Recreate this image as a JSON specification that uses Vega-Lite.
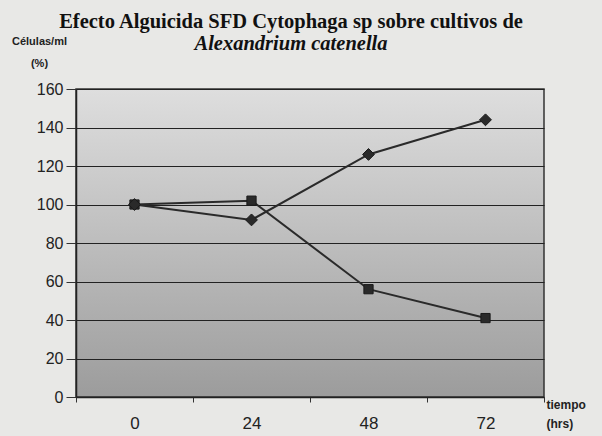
{
  "$schema": "https://vega.github.io/schema/vega-lite/v6.json",
  "width": 468,
  "height": 308,
  "autosize": {"type": "none"},
  "padding": {"left": 76, "top": 89, "right": 58, "bottom": 39},
  "background": "#e8e8e6",
  "title": {
    "text": "Efecto Alguicida SFD Cytophaga sp  sobre cultivos de",
    "subtitle": "Alexandrium catenella",
    "font": "Liberation Serif",
    "fontSize": 20.5,
    "fontWeight": "bold",
    "color": "#111111",
    "subtitleFont": "Liberation Serif",
    "subtitleFontSize": 20.5,
    "subtitleFontWeight": "bold",
    "subtitleFontStyle": "italic",
    "subtitleColor": "#111111",
    "subtitlePadding": 1,
    "anchor": "middle",
    "dx": -19,
    "offset": -19
  },
  "data": {
    "values": [
      {"t": "0", "serie": "A", "v": 100},
      {"t": "24", "serie": "A", "v": 102},
      {"t": "48", "serie": "A", "v": 56},
      {"t": "72", "serie": "A", "v": 41},
      {"t": "0", "serie": "B", "v": 100},
      {"t": "24", "serie": "B", "v": 92},
      {"t": "48", "serie": "B", "v": 126},
      {"t": "72", "serie": "B", "v": 144}
    ]
  },
  "encoding": {
    "x": {
      "field": "t",
      "type": "ordinal",
      "sort": ["0", "24", "48", "72"],
      "scale": {"paddingInner": 0, "paddingOuter": 0},
      "axis": {
        "title": ["tiempo", "(hrs)"],
        "titleFont": "Liberation Sans",
        "titleFontSize": 12,
        "titleFontWeight": "bold",
        "titleColor": "#222222",
        "titleAlign": "left",
        "titleBaseline": "top",
        "titleAnchor": null,
        "titleX": 470,
        "titleY": 2,
        "titleLineHeight": 19,
        "labelAngle": 0,
        "labelFont": "Liberation Sans",
        "labelFontSize": 17,
        "labelColor": "#222222",
        "labelPadding": 13,
        "tickBand": "extent",
        "tickSize": 5,
        "tickColor": "#333333",
        "domainColor": "#222222",
        "domainWidth": 1.5,
        "grid": false
      }
    },
    "y": {
      "field": "v",
      "type": "quantitative",
      "scale": {"domain": [0, 160], "nice": false},
      "axis": {
        "values": [0, 20, 40, 60, 80, 100, 120, 140, 160],
        "title": ["Células/ml", "(%)"],
        "titleFont": "Liberation Sans",
        "titleFontSize": 11,
        "titleFontWeight": "bold",
        "titleColor": "#222222",
        "titleAngle": 0,
        "titleAlign": "center",
        "titleBaseline": "top",
        "titleAnchor": null,
        "titleX": -37,
        "titleY": -54,
        "titleLineHeight": 22,
        "labelFont": "Liberation Sans",
        "labelFontSize": 16,
        "labelColor": "#222222",
        "labelPadding": 3,
        "tickSize": 10,
        "tickColor": "#333333",
        "domainColor": "#222222",
        "domainWidth": 1.5,
        "grid": true,
        "gridColor": "#222222",
        "gridWidth": 1.2,
        "gridOpacity": 1
      }
    }
  },
  "layer": [
    {
      "mark": {"type": "line", "color": "#2a2a2a", "strokeWidth": 2},
      "encoding": {"detail": {"field": "serie"}}
    },
    {
      "mark": {"type": "point", "filled": true, "color": "#2a2a2a", "opacity": 1, "stroke": "#1a1a1a", "strokeWidth": 1},
      "encoding": {
        "shape": {
          "field": "serie",
          "scale": {"domain": ["A", "B"], "range": ["square", "diamond"]},
          "legend": null
        },
        "size": {
          "field": "serie",
          "type": "nominal",
          "scale": {"domain": ["A", "B"], "range": [85, 140]},
          "legend": null
        }
      }
    }
  ],
  "config": {
    "view": {
      "stroke": "#333333",
      "strokeWidth": 1.5,
      "fill": {
        "gradient": "linear",
        "x1": 0, "y1": 0, "x2": 0, "y2": 1,
        "stops": [
          {"offset": 0, "color": "#dedede"},
          {"offset": 0.5, "color": "#bdbdbd"},
          {"offset": 1, "color": "#9c9c9c"}
        ]
      }
    }
  }
}
